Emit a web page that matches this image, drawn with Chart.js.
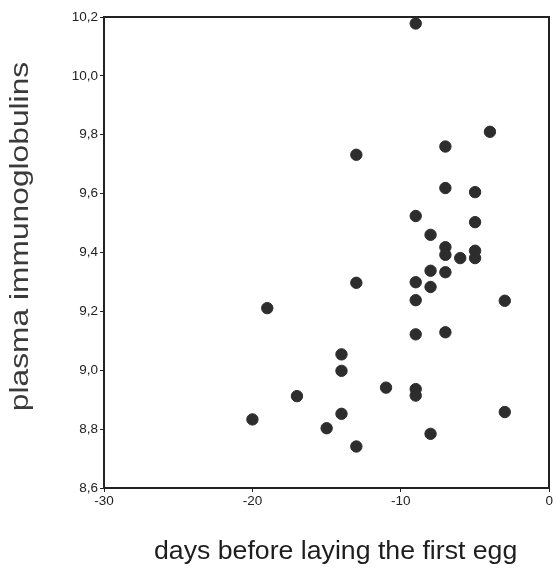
<!DOCTYPE html>
<html>
<head>
<meta charset="utf-8">
<script src="https://cdn.jsdelivr.net/npm/chart.js@4.4.1/dist/chart.umd.min.js"></script>
<style>
  html, body { margin: 0; padding: 0; background: #fff; }
  #wrap { width: 556px; height: 568px; }
</style>
</head>
<body>
<div id="wrap"><canvas id="c"></canvas></div>
<script>
// days before laying the first egg
const days = [
  -9, -4, -7, -13, -7, -5, -9, -5, -8, -7, -5, -7, -6, -5, -8, -7, -13, -9,
  -8, -9, -3, -9, -7, -14, -14, -11, -9, -9, -17, -14, -3, -15, -8, -13, -19, -20
];
// plasma immunoglobulins
const igs = [
  10.178, 9.81, 9.76, 9.732, 9.619, 9.605, 9.524, 9.503, 9.46, 9.418, 9.406, 9.392,
  9.381, 9.381, 9.338, 9.333, 9.297, 9.299, 9.283, 9.238, 9.236, 9.122, 9.129, 9.054,
  8.998, 8.941, 8.936, 8.914, 8.912, 8.852, 8.858, 8.803, 8.784, 8.741, 9.211, 8.833
];
const xTicks = [-30, -20, -10, 0];
const yMin = 8.6, yMax = 10.2, yStep = 0.2;
const xTitle = 'days before laying the first egg';
const yTitle = 'plasma immunoglobulins';

const points = days.map((d, i) => ({ x: d, y: igs[i] }));
const ink = '#222';
const fontFamily = '"Liberation Sans", Arial, sans-serif';

// the original titles are a bit stretched along their length, so draw them
// ourselves with a horizontal scale factor
const stretchedTitles = {
  id: 'stretchedTitles',
  afterDraw(chart) {
    const ctx = chart.ctx;
    const area = chart.chartArea;
    ctx.save();
    ctx.font = '25px ' + fontFamily;
    ctx.textAlign = 'center';
    ctx.textBaseline = 'alphabetic';

    // x title
    ctx.save();
    ctx.fillStyle = '#1e1e1e';
    ctx.translate(area.left + area.width / 2 + 9, chart.height - 9);
    ctx.scale(1.067, 1);
    ctx.fillText(xTitle, 0, 0);
    ctx.restore();

    // y title
    ctx.save();
    ctx.fillStyle = '#3a3a3a';
    ctx.translate(28, area.top + area.height / 2 - 16);
    ctx.rotate(-Math.PI / 2);
    ctx.scale(1.27, 1);
    ctx.fillText(yTitle, 0, 0);
    ctx.restore();

    ctx.restore();
  }
};

const frameAxis = (position, axis) => ({
  type: 'linear',
  axis,
  position,
  min: axis === 'x' ? xTicks[0] : yMin,
  max: axis === 'x' ? xTicks[xTicks.length - 1] : yMax,
  grid: { display: false },
  border: { display: true, color: ink, width: 2 },
  ticks: { display: false },
  afterFit(scale) {
    if (axis === 'x') scale.height = 0; else scale.width = 0;
  }
});

new Chart(document.getElementById('c'), {
  type: 'scatter',
  data: {
    datasets: [{
      data: points,
      backgroundColor: '#2d2d2d',
      borderColor: '#2d2d2d',
      pointRadius: 5.7,
      pointHoverRadius: 5.7
    }]
  },
  options: {
    responsive: true,
    maintainAspectRatio: false,
    animation: false,
    layout: { padding: { top: 17, right: 5, left: 0, bottom: 0 } },
    plugins: { legend: { display: false }, tooltip: { enabled: false } },
    scales: {
      x: {
        type: 'linear',
        position: 'bottom',
        min: xTicks[0],
        max: xTicks[xTicks.length - 1],
        afterBuildTicks(scale) {
          scale.ticks = xTicks.map(v => ({ value: v }));
        },
        grid: { drawOnChartArea: false, drawTicks: true, tickLength: 4, tickColor: ink, tickWidth: 1 },
        border: { display: true, color: ink, width: 2 },
        ticks: { color: ink, font: { family: fontFamily, size: 13.5 }, padding: 1, maxRotation: 0 },
        afterFit(scale) { scale.height = 80; }
      },
      y: {
        type: 'linear',
        position: 'left',
        min: yMin,
        max: yMax,
        ticks: {
          stepSize: yStep,
          color: ink,
          font: { family: fontFamily, size: 13.5 },
          padding: 2,
          callback: v => v.toFixed(1).replace('.', ',')
        },
        grid: { drawOnChartArea: false, drawTicks: true, tickLength: 4, tickColor: ink, tickWidth: 1 },
        border: { display: true, color: ink, width: 2 },
        afterFit(scale) { scale.width = 104; }
      },
      xTop: frameAxis('top', 'x'),
      yRight: frameAxis('right', 'y')
    }
  },
  plugins: [stretchedTitles]
});
</script>
</body>
</html>
